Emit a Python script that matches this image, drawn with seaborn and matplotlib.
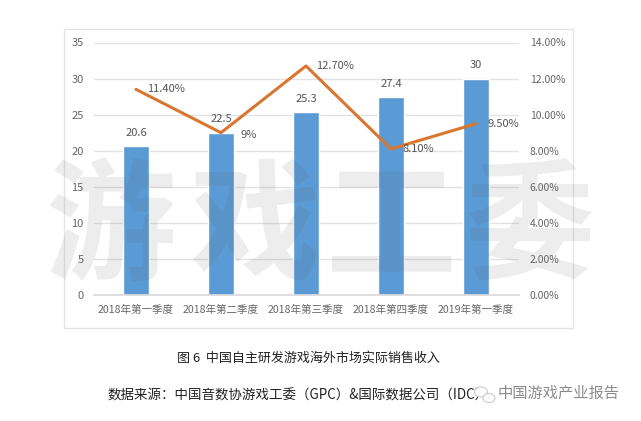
import matplotlib
matplotlib.use("Agg")
import matplotlib.pyplot as plt
from matplotlib.patches import Rectangle, Ellipse
import seaborn as sns
import pandas as pd

# dados
quarters = ["2018年第一季度", "2018年第二季度", "2018年第三季度", "2018年第四季度", "2019年第一季度"]
revenue = [20.6, 22.5, 25.3, 27.4, 30]
growth = [11.4, 9, 12.7, 8.1, 9.5]
growth_labels = ["11.40%", "9%", "12.70%", "8.10%", "9.50%"]
left_ticks = [0, 5, 10, 15, 20, 25, 30, 35]
right_ticks = [0, 2, 4, 6, 8, 10, 12, 14]

sns.set_theme(style="white")
plt.rcParams["font.family"] = ["Noto Sans CJK SC", "DejaVu Sans"]

df = pd.DataFrame({"quarter": quarters, "revenue": revenue, "growth": growth})

W, H = 641, 421
fig = plt.figure(figsize=(W / 100, H / 100), dpi=100, facecolor="white")

# moldura do grafico
fig.add_artist(Rectangle((64 / W, 1 - 328 / H), 509 / W, 299 / H, transform=fig.transFigure,
                         facecolor="white", edgecolor="#e4e4e4", linewidth=1, zorder=-1))

ax = fig.add_axes([93.5 / W, 1 - 295 / H, 425 / W, 252.5 / H])
ax.patch.set_alpha(0)
sns.barplot(data=df, x="quarter", y="revenue", color="#5b9bd5", saturation=1, width=0.31, ax=ax, zorder=2)
ax.set_ylim(0, 35)
ax.set_yticks(left_ticks)
ax.set_xlabel("")
ax.set_ylabel("")
ax.grid(axis="y", color="#e2e2e2", linewidth=1, zorder=0)
ax.set_axisbelow(True)
ax.tick_params(axis="x", length=0, labelsize=7.6, labelcolor="#666666", pad=7)
ax.tick_params(axis="y", length=0, labelsize=8, labelcolor="#666666", pad=7)
sns.despine(ax=ax, left=True, right=True, top=True)
ax.spines["bottom"].set_color("#d9d9d9")

for i, v in enumerate(revenue):
    ax.annotate(str(v), (i, v), xytext=(0, 6), textcoords="offset points", ha="center", va="bottom",
                fontsize=8, color="#555555", zorder=5)

ax2 = ax.twinx()
sns.lineplot(data=df, x="quarter", y="growth", color="#d9762f", linewidth=2.2, ax=ax2, zorder=4,
             errorbar=None, sort=False)
ax2.set_ylim(0, 14)
ax2.set_yticks(right_ticks)
ax2.set_yticklabels([f"{t:.2f}%" for t in right_ticks])
ax2.set_ylabel("")
ax2.tick_params(axis="y", length=0, labelsize=7.5, labelcolor="#666666", pad=8)
sns.despine(ax=ax2, left=True, right=True, top=True, bottom=True)
# o twinx muda o xlim, volta para as categorias inteiras
ax.set_xlim(-0.5, 4.5)

# deslocamento dos rotulos da linha, em pontos
label_offsets = [(8, 0), (14, -2), (7, 0), (8, 0), (8, 0)]
for i, (v, lab) in enumerate(zip(growth, growth_labels)):
    ax2.annotate(lab, (i, v), xytext=label_offsets[i], textcoords="offset points", ha="left", va="center",
                 fontsize=8, color="#555555", zorder=5)

# marca d'agua por cima de tudo
for ch, cx in zip("游戏工委", [111, 255, 390, 530]):
    fig.text(cx / W, 1 - 231 / H, ch, fontsize=94, fontweight="bold", color="#555555", alpha=0.1,
             ha="center", va="center", zorder=6)

fig.text(308 / W, 1 - 358 / H, "图 6  中国自主研发游戏海外市场实际销售收入", fontsize=9.4, color="#222222",
         fontweight="medium", ha="center", va="center")
fig.text(108 / W, 1 - 396 / H, "数据来源：中国音数协游戏工委（GPC）&国际数据公司（IDC）", fontsize=9.7, color="#222222",
         fontweight="medium", ha="left", va="center")

# icone e conta do wechat
for cx, cy, w, h in [(481, 392, 13, 10), (489, 398, 12, 9)]:
    fig.add_artist(Ellipse((cx / W, 1 - cy / H), w / W, h / H, transform=fig.transFigure,
                           facecolor="white", edgecolor="#cccccc", linewidth=0.8, zorder=7))
fig.text(498 / W, 1 - 393 / H, "中国游戏产业报告", fontsize=11, color="#8c8c8c", ha="left", va="center", zorder=8)

fig.savefig("out.png", dpi=100)
